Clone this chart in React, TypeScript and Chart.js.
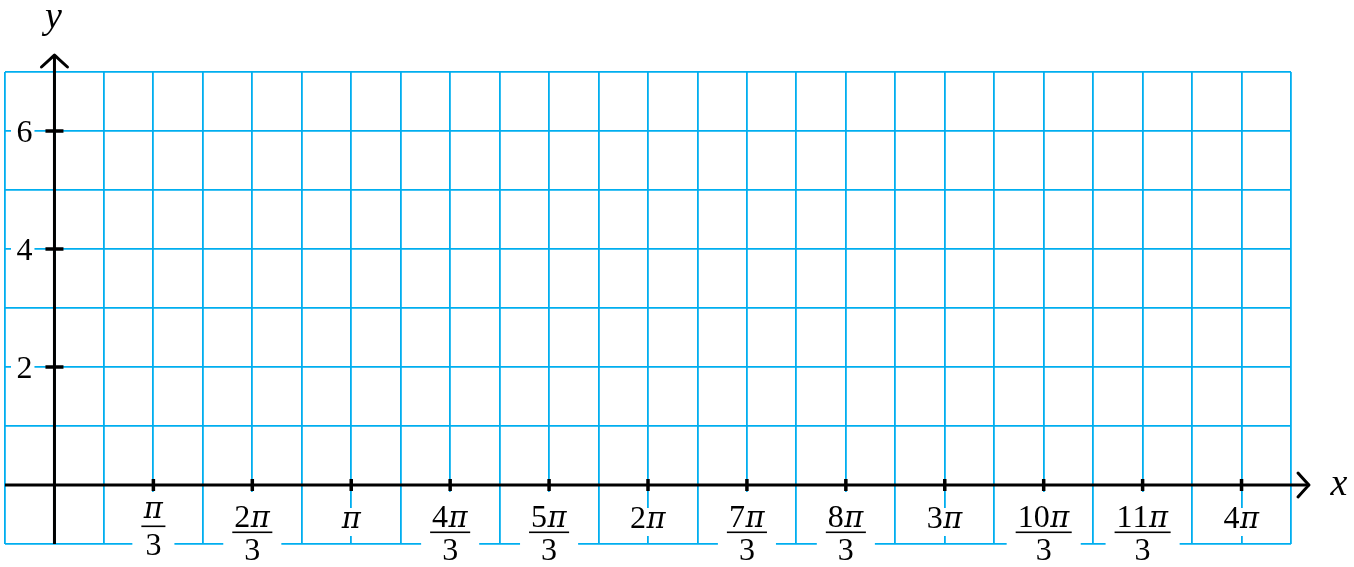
import React, { useEffect, useRef } from "react";
import { Chart, registerables } from "chart.js";

Chart.register(...registerables);

// ---- data ----
const xMinSixths = -1; // x range start in units of π/6
const xMaxSixths = 25; // x range end in units of π/6
const yMin = -1;
const yMax = 7;
const xTickThirds = [1, 2, 3, 4, 5, 6, 7, 8, 9, 10, 11, 12];
const xTickNumerators = ["π", "2π", "π", "4π", "5π", "2π", "7π", "8π", "3π", "10π", "11π", "4π"];
const xTickDenominators = ["3", "3", "", "3", "3", "", "3", "3", "", "3", "3", ""];
const yTickValues = [2, 4, 6];
const yTickLabels = ["2", "4", "6"];

const GRID_COLOR = "rgb(0,174,239)";
const FONT = '"Liberation Serif", "DejaVu Serif", serif';
const DIGIT_FONT = `32px ${FONT}`;
const PI_FONT = 'italic 29px "DejaVu Serif", serif';

function measureMixed(ctx: CanvasRenderingContext2D, s: string) {
  let w = 0;
  for (const ch of s) {
    ctx.font = ch === "π" ? PI_FONT : DIGIT_FONT;
    w += ctx.measureText(ch).width + (ch === "π" ? 1 : 0);
  }
  return w;
}

function drawMixed(ctx: CanvasRenderingContext2D, s: string, cx: number, baseline: number) {
  const total = measureMixed(ctx, s);
  let x = cx - total / 2;
  ctx.textAlign = "left";
  for (const ch of s) {
    ctx.font = ch === "π" ? PI_FONT : DIGIT_FONT;
    const w = ctx.measureText(ch).width + (ch === "π" ? 1 : 0);
    ctx.fillText(ch, x + (ch === "π" ? 0.5 : 0), baseline);
    x += w;
  }
}

const overlayPlugin = {
  id: "axesOverlay",
  afterDraw(chart: any) {
    const ctx: CanvasRenderingContext2D = chart.ctx;
    const xs = chart.scales.x;
    const ys = chart.scales.y;
    const area = chart.chartArea;
    const x0 = xs.getPixelForValue(0);
    const y0 = ys.getPixelForValue(0);
    ctx.save();
    ctx.textBaseline = "alphabetic";

    // --- x tick labels with white backgrounds ---
    xTickThirds.forEach((t, i) => {
      const px = xs.getPixelForValue((t * Math.PI) / 3);
      const num = xTickNumerators[i];
      const den = xTickDenominators[i];
      if (den) {
        const numW = measureMixed(ctx, num);
        const denW = measureMixed(ctx, den);
        const barW = Math.max(numW, denW) + 4;
        const piNum = num.startsWith("π");
        ctx.fillStyle = "#fff";
        ctx.fillRect(px - barW / 2 - 9, y0 + 7, barW + 18, 90);
        ctx.fillStyle = "#000";
        drawMixed(ctx, num, px, y0 + (piNum ? 33 : 42));
        drawMixed(ctx, den, px, y0 + (piNum ? 70 : 75));
        ctx.fillRect(px - barW / 2, y0 + (piNum ? 40.5 : 46.5), barW, 1.6);
      } else {
        const w = measureMixed(ctx, num);
        ctx.fillStyle = "#fff";
        ctx.fillRect(px - w / 2 - 6, y0 + 23, w + 12, 28);
        ctx.fillStyle = "#000";
        drawMixed(ctx, num, px, y0 + 43);
      }
    });

    // --- y tick labels ---
    ctx.font = DIGIT_FONT;
    ctx.textAlign = "right";
    yTickValues.forEach((v, i) => {
      const py = ys.getPixelForValue(v);
      ctx.fillStyle = "#fff";
      ctx.fillRect(11, py - 14, x0 - 20 - 11, 28);
      ctx.fillStyle = "#000";
      ctx.fillText(yTickLabels[i], x0 - 22, py + 11);
    });

    // --- axes ---
    ctx.strokeStyle = "#000";
    ctx.lineWidth = 3;
    ctx.lineCap = "butt";
    const tipX = area.right + 18;
    const tipY = area.top - 17;
    ctx.beginPath();
    ctx.moveTo(area.left, y0);
    ctx.lineTo(tipX, y0);
    ctx.moveTo(x0, area.bottom);
    ctx.lineTo(x0, tipY);
    ctx.stroke();

    // arrows
    ctx.lineCap = "round";
    ctx.lineJoin = "round";
    ctx.beginPath();
    ctx.moveTo(tipX - 11, y0 - 12);
    ctx.quadraticCurveTo(tipX - 3, y0 - 3, tipX, y0);
    ctx.quadraticCurveTo(tipX - 3, y0 + 3, tipX - 11, y0 + 12);
    ctx.moveTo(x0 - 13, tipY + 12);
    ctx.quadraticCurveTo(x0 - 3, tipY + 3, x0, tipY);
    ctx.quadraticCurveTo(x0 + 3, tipY + 3, x0 + 13, tipY + 12);
    ctx.stroke();

    // ticks
    ctx.lineCap = "butt";
    ctx.lineWidth = 3.5;
    ctx.beginPath();
    xTickThirds.forEach((t) => {
      const px = xs.getPixelForValue((t * Math.PI) / 3);
      ctx.moveTo(px, y0 - 6);
      ctx.lineTo(px, y0 + 6);
    });
    yTickValues.forEach((v) => {
      const py = ys.getPixelForValue(v);
      ctx.moveTo(x0 - 9, py);
      ctx.lineTo(x0 + 9, py);
    });
    ctx.stroke();

    // axis names
    ctx.fillStyle = "#000";
    ctx.font = `italic 38px ${FONT}`;
    ctx.textAlign = "center";
    ctx.fillText("x", tipX + 30, y0 + 10);
    ctx.fillText("y", x0 - 1, 28);

    ctx.restore();
  },
};

export default function App() {
  const ref = useRef<HTMLCanvasElement | null>(null);
  useEffect(() => {
    if (!ref.current) return;
    const step = Math.PI / 6;
    const chart = new Chart(ref.current, {
      type: "scatter",
      data: { datasets: [{ data: [] }] },
      options: {
        animation: false,
        responsive: false,
        events: [],
        layout: { padding: { left: 5, right: 63, top: 72, bottom: 23 } },
        plugins: { legend: { display: false }, tooltip: { enabled: false } },
        scales: {
          x: {
            type: "linear",
            min: xMinSixths * step,
            max: xMaxSixths * step,
            ticks: { display: false },
            border: { display: false },
            grid: { color: GRID_COLOR, lineWidth: 1.8, drawTicks: false },
            afterBuildTicks: (scale: any) => {
              const t = [];
              for (let k = xMinSixths; k <= xMaxSixths; k++) t.push({ value: k * step });
              scale.ticks = t;
            },
          },
          y: {
            type: "linear",
            min: yMin,
            max: yMax,
            ticks: { display: false },
            border: { display: false },
            grid: { color: GRID_COLOR, lineWidth: 1.8, drawTicks: false },
            afterBuildTicks: (scale: any) => {
              const t = [];
              for (let k = yMin; k <= yMax; k++) t.push({ value: k });
              scale.ticks = t;
            },
          },
        },
      },
      plugins: [overlayPlugin],
    });
    return () => chart.destroy();
  }, []);
  return (
    <div style={{ position: "fixed", left: 0, top: 0, width: 1354, height: 567, background: "#fff" }}>
      <canvas ref={ref} width={1354} height={567} style={{ display: "block" }} />
    </div>
  );
}
